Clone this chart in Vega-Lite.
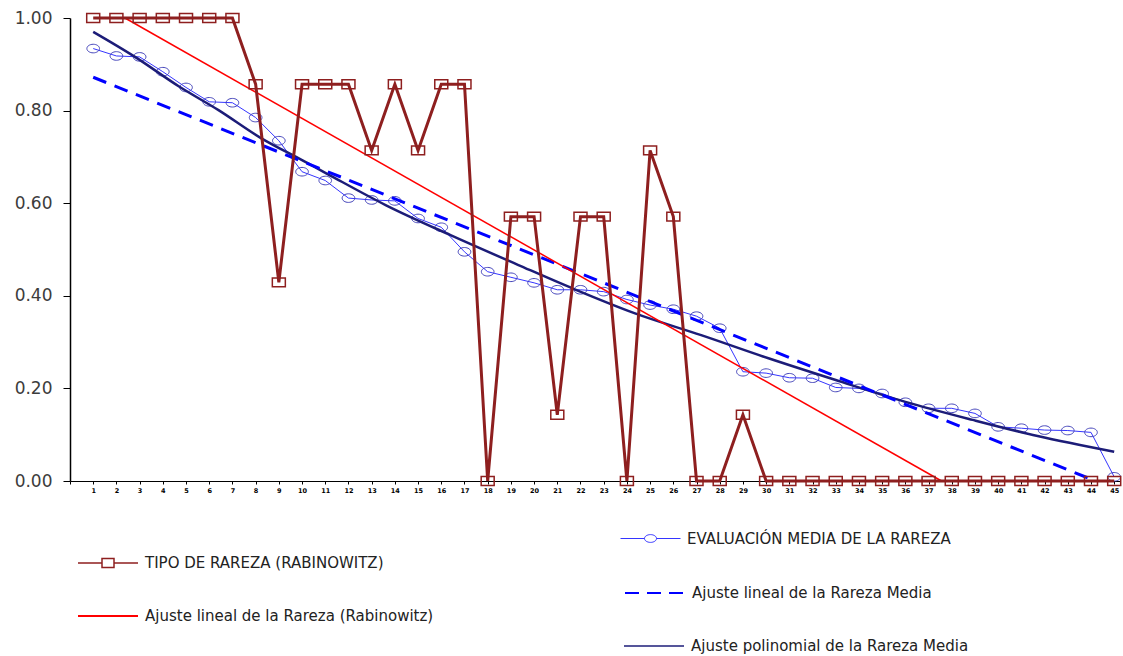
{
  "$schema": "https://vega.github.io/schema/vega-lite/v6.json",
  "width": 1050,
  "height": 463,
  "autosize": {"type": "none"},
  "padding": {"left": 70, "top": 18, "right": 3, "bottom": 175},
  "background": "white",
  "datasets": {
    "tipo": [
      {"x": 1, "y": 1}, {"x": 2, "y": 1}, {"x": 3, "y": 1}, {"x": 4, "y": 1}, {"x": 5, "y": 1},
      {"x": 6, "y": 1}, {"x": 7, "y": 1}, {"x": 8, "y": 0.857}, {"x": 9, "y": 0.429}, {"x": 10, "y": 0.857},
      {"x": 11, "y": 0.857}, {"x": 12, "y": 0.857}, {"x": 13, "y": 0.714}, {"x": 14, "y": 0.857}, {"x": 15, "y": 0.714},
      {"x": 16, "y": 0.857}, {"x": 17, "y": 0.857}, {"x": 18, "y": 0}, {"x": 19, "y": 0.571}, {"x": 20, "y": 0.571},
      {"x": 21, "y": 0.143}, {"x": 22, "y": 0.571}, {"x": 23, "y": 0.571}, {"x": 24, "y": 0}, {"x": 25, "y": 0.714},
      {"x": 26, "y": 0.571}, {"x": 27, "y": 0}, {"x": 28, "y": 0}, {"x": 29, "y": 0.143}, {"x": 30, "y": 0},
      {"x": 31, "y": 0}, {"x": 32, "y": 0}, {"x": 33, "y": 0}, {"x": 34, "y": 0}, {"x": 35, "y": 0},
      {"x": 36, "y": 0}, {"x": 37, "y": 0}, {"x": 38, "y": 0}, {"x": 39, "y": 0}, {"x": 40, "y": 0},
      {"x": 41, "y": 0}, {"x": 42, "y": 0}, {"x": 43, "y": 0}, {"x": 44, "y": 0}, {"x": 45, "y": 0}
    ],
    "media": [
      {"x": 1, "y": 0.934}, {"x": 2, "y": 0.918}, {"x": 3, "y": 0.916}, {"x": 4, "y": 0.884}, {"x": 5, "y": 0.85},
      {"x": 6, "y": 0.819}, {"x": 7, "y": 0.817}, {"x": 8, "y": 0.785}, {"x": 9, "y": 0.735}, {"x": 10, "y": 0.668},
      {"x": 11, "y": 0.649}, {"x": 12, "y": 0.611}, {"x": 13, "y": 0.607}, {"x": 14, "y": 0.605}, {"x": 15, "y": 0.567},
      {"x": 16, "y": 0.548}, {"x": 17, "y": 0.495}, {"x": 18, "y": 0.452}, {"x": 19, "y": 0.44}, {"x": 20, "y": 0.428},
      {"x": 21, "y": 0.413}, {"x": 22, "y": 0.413}, {"x": 23, "y": 0.409}, {"x": 24, "y": 0.392}, {"x": 25, "y": 0.38},
      {"x": 26, "y": 0.371}, {"x": 27, "y": 0.356}, {"x": 28, "y": 0.33}, {"x": 29, "y": 0.236}, {"x": 30, "y": 0.233},
      {"x": 31, "y": 0.223}, {"x": 32, "y": 0.222}, {"x": 33, "y": 0.202}, {"x": 34, "y": 0.2}, {"x": 35, "y": 0.189},
      {"x": 36, "y": 0.17}, {"x": 37, "y": 0.157}, {"x": 38, "y": 0.157}, {"x": 39, "y": 0.146}, {"x": 40, "y": 0.117},
      {"x": 41, "y": 0.114}, {"x": 42, "y": 0.11}, {"x": 43, "y": 0.109}, {"x": 44, "y": 0.105}, {"x": 45, "y": 0.009}
    ],
    "poli": [
      {"x": 1, "y": 0.97}, {"x": 2.8, "y": 0.916}, {"x": 4.7, "y": 0.852}, {"x": 6.4, "y": 0.801}, {"x": 8.25, "y": 0.74},
      {"x": 10, "y": 0.693}, {"x": 11.1, "y": 0.663}, {"x": 13.6, "y": 0.596}, {"x": 16.4, "y": 0.531}, {"x": 19.3, "y": 0.467},
      {"x": 21.7, "y": 0.415}, {"x": 24.35, "y": 0.362}, {"x": 27.2, "y": 0.315}, {"x": 30.1, "y": 0.265}, {"x": 33, "y": 0.218},
      {"x": 36, "y": 0.171}, {"x": 38.9, "y": 0.132}, {"x": 41.7, "y": 0.097}, {"x": 45, "y": 0.063}
    ],
    "linmedia": [{"x": 1, "y": 0.872}, {"x": 44.2, "y": 0}],
    "linrab": [{"x": 2.37, "y": 1}, {"x": 37.56, "y": 0}]
  },
  "encoding": {
    "x": {
      "field": "x", "type": "quantitative", "title": null,
      "scale": {"domain": [0, 45.25], "nice": false, "zero": false},
      "axis": {
        "values": [0,1,2,3,4,5,6,7,8,9,10,11,12,13,14,15,16,17,18,19,20,21,22,23,24,25,26,27,28,29,30,31,32,33,34,35,36,37,38,39,40,41,42,43,44,45],
        "labelExpr": "datum.value == 0 ? '' : datum.label",
        "labelFont": "DejaVu Sans", "labelFontSize": 6.5, "labelFontWeight": "bold", "labelColor": "#000000",
        "tickSize": 3, "tickColor": "#000000", "domainColor": "#000000", "domainWidth": 1.2,
        "grid": false, "labelPadding": 3, "labelAngle": 0, "labelOverlap": false, "labelFlush": false
      }
    },
    "y": {
      "field": "y", "type": "quantitative", "title": null,
      "scale": {"domain": [0, 1], "nice": false},
      "axis": {
        "values": [0, 0.2, 0.4, 0.6, 0.8, 1],
        "format": ".2f",
        "labelFont": "DejaVu Sans", "labelFontSize": 17, "labelColor": "#3c3c3c",
        "tickSize": 7, "tickColor": "#000000", "domainColor": "#000000", "domainWidth": 1.5,
        "grid": false, "labelPadding": 11, "labelFlush": false
      }
    }
  },
  "layer": [
    {
      "data": {"name": "media"},
      "mark": {"type": "line", "strokeWidth": 1},
      "encoding": {
        "color": {
          "datum": "EVALUACIÓN MEDIA DE LA RAREZA",
          "scale": {"range": ["#3535ff"]},
          "legend": {"title": null, "legendX": 550, "legendY": 490, "symbolType": "M-1,0H-0.2M0.2,0H1M-0.2,0A0.2,0.13 0 1,1 0.2,0A0.2,0.13 0 1,1 -0.2,0Z", "symbolStrokeWidth": 1}
        }
      }
    },
    {
      "data": {"name": "media"},
      "mark": {"type": "point", "shape": "M-1,0A1,0.68 0 1,1 1,0A1,0.68 0 1,1 -1,0Z", "size": 160, "filled": false, "color": "#4545bb", "strokeWidth": 1, "opacity": 1}
    },
    {
      "data": {"name": "poli"},
      "mark": {"type": "line", "strokeWidth": 2.5, "interpolate": "monotone"},
      "encoding": {
        "color": {
          "datum": "Ajuste polinomial de la Rareza Media",
          "scale": {"range": ["#1c1c78"]},
          "legend": {"title": null, "legendX": 553, "legendY": 597, "symbolType": "M-1,0H1", "symbolStrokeWidth": 1.5}
        }
      }
    },
    {
      "data": {"name": "linmedia"},
      "mark": {"type": "line", "strokeWidth": 3, "strokeDash": [14, 9]},
      "encoding": {
        "color": {
          "datum": "Ajuste lineal de la Rareza Media",
          "scale": {"range": ["#0000ff"]},
          "legend": {"title": null, "legendX": 554, "legendY": 544, "symbolType": "M-1,0H1", "symbolStrokeWidth": 2, "symbolDash": [14, 8]}
        }
      }
    },
    {
      "data": {"name": "linrab"},
      "mark": {"type": "line", "strokeWidth": 1.5},
      "encoding": {
        "color": {
          "datum": "Ajuste lineal de la Rareza (Rabinowitz)",
          "scale": {"range": ["#ff0000"]},
          "legend": {"title": null, "legendX": 7, "legendY": 567, "symbolType": "M-1,0H1", "symbolStrokeWidth": 2}
        }
      }
    },
    {
      "data": {"name": "tipo"},
      "mark": {"type": "line", "strokeWidth": 3},
      "encoding": {
        "color": {
          "datum": "TIPO DE RAREZA (RABINOWITZ)",
          "scale": {"range": ["#8e1f1f"]},
          "legend": {"title": null, "legendX": 7, "legendY": 514, "symbolType": "M-1,0H-0.2M0.2,0H1M-0.2,-0.15H0.2V0.15H-0.2Z", "symbolStrokeWidth": 1.5}
        }
      }
    },
    {
      "data": {"name": "tipo"},
      "mark": {"type": "point", "shape": "M-1,-0.68H1V0.68H-1Z", "size": 169, "filled": false, "color": "#8e1f1f", "strokeWidth": 1.5, "opacity": 1}
    }
  ],
  "resolve": {"scale": {"color": "independent"}},
  "config": {
    "view": {"stroke": null},
    "legend": {
      "orient": "none",
      "labelFont": "DejaVu Sans",
      "labelFontSize": 15,
      "labelColor": "#222222",
      "labelLimit": 800,
      "symbolSize": 3600,
      "labelOffset": 6,
      "padding": 0,
      "symbolFillColor": "transparent",
      "symbolOpacity": 1
    }
  }
}
